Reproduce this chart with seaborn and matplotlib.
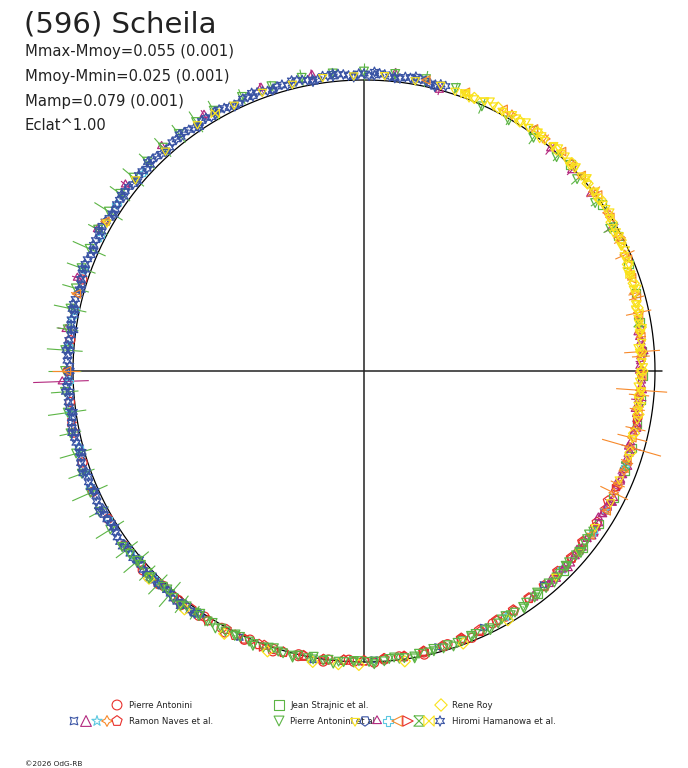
import numpy as np
import pandas as pd
import matplotlib
matplotlib.use("Agg")
import matplotlib.pyplot as plt
import seaborn as sns
from matplotlib.collections import LineCollection

sns.set_theme(style="white")
plt.rcParams['font.family'] = ['DejaVu Sans']

# ---------------- text ----------------
TITLE = "(596) Scheila"
STATS = ["Mmax-Mmoy=0.055 (0.001)", "Mmoy-Mmin=0.025 (0.001)",
         "Mamp=0.079 (0.001)", "Eclat^1.00"]
COPYRIGHT = "\u00a92026 OdG-RB"

# ---------------- data: phase (deg, clockwise from top) and delta-mag ----------------
hh_blue_phase = [214, 216, 218, 220, 222, 224, 226, 228, 230, 232, 234, 236, 238, 240, 242, 244, 246, 248,
                 250, 252, 254, 256, 258, 260, 262, 264, 266, 268, 270, 272, 274, 276, 278, 280, 282, 284,
                 286, 288, 290, 292, 294, 296, 298, 300, 302, 304, 306, 308, 310, 312, 314, 316, 318, 320,
                 322, 324, 326, 328, 330, 332, 334, 336, 338, 340, 342, 344, 346, 348, 350, 352, 354, 356,
                 358, 0, 2, 4, 6, 8, 10, 12, 14, 16]
hh_blue_dmag = [-0.011, -0.018, -0.015, -0.022, -0.014, -0.019, -0.013, -0.023, -0.016, -0.021, -0.018, -0.024,
                -0.017, -0.021, -0.015, -0.023, -0.019, -0.022, -0.016, -0.025, -0.018, -0.021, -0.014, -0.022,
                -0.017, -0.023, -0.015, -0.020, -0.016, -0.022, -0.014, -0.021, -0.017, -0.023, -0.018, -0.024,
                -0.019, -0.025, -0.020, -0.027, -0.021, -0.028, -0.022, -0.029, -0.023, -0.027, -0.021, -0.029,
                -0.024, -0.028, -0.022, -0.027, -0.021, -0.028, -0.023, -0.026, -0.020, -0.027, -0.021, -0.025,
                -0.019, -0.026, -0.020, -0.024, -0.018, -0.025, -0.019, -0.024, -0.018, -0.025, -0.019, -0.023,
                -0.017, -0.024, -0.018, -0.023, -0.016, -0.022, -0.017, -0.021, -0.015, -0.020]

hh_blue2_phase = [215, 217, 219, 221, 223, 225, 227, 229, 231, 233, 235, 237, 239, 241, 243, 245,
                  247, 249, 251, 253, 255, 257, 259, 261, 263, 265, 267, 269, 271, 273, 275, 277,
                  279, 281, 283, 285, 287, 289, 291, 293, 295, 297, 299, 301, 303, 305, 307, 309,
                  311, 313, 315, 317, 319, 321, 323, 325, 327, 329, 331, 333, 335, 337, 339, 341,
                  343, 345, 347, 349, 351, 353, 355, 357, 359, 1, 3, 5, 7, 9, 11, 13, 15]
hh_blue2_dmag = [-0.018, -0.012, -0.022, -0.015, -0.013, -0.020, -0.023, -0.016,
                 -0.023, -0.016, -0.026, -0.018, -0.015, -0.022, -0.025, -0.017,
                 -0.023, -0.016, -0.026, -0.018, -0.015, -0.022, -0.024, -0.016,
                 -0.022, -0.015, -0.025, -0.016, -0.013, -0.020, -0.023, -0.015,
                 -0.021, -0.015, -0.026, -0.018, -0.016, -0.024, -0.028, -0.020,
                 -0.027, -0.021, -0.031, -0.023, -0.020, -0.027, -0.030, -0.022,
                 -0.028, -0.021, -0.031, -0.022, -0.019, -0.026, -0.029, -0.020,
                 -0.026, -0.019, -0.029, -0.020, -0.017, -0.024, -0.027, -0.019,
                 -0.024, -0.017, -0.027, -0.019, -0.016, -0.023, -0.026, -0.018,
                 -0.024, -0.016, -0.026, -0.017, -0.014, -0.021, -0.023, -0.015, -0.021]

hh_blue3_phase = [214, 218, 222, 226, 230, 234, 238, 242, 246, 250, 254, 258, 262, 266, 270, 274, 278,
                  282, 286, 290, 294, 298, 302, 306, 310, 314, 318, 322, 326, 330, 334, 338, 342, 346,
                  350, 354, 358, 2, 6, 10, 14]
hh_blue3_dmag = [-0.006, -0.027, -0.011, -0.028, -0.008, -0.028, -0.011, -0.031, -0.013, -0.030, -0.009,
                 -0.028, -0.010, -0.030, -0.011, -0.028, -0.008, -0.027, -0.012, -0.033, -0.017, -0.035,
                 -0.014, -0.033, -0.016, -0.036, -0.017, -0.034, -0.012, -0.031, -0.013, -0.033, -0.015,
                 -0.031, -0.010, -0.029, -0.011, -0.031, -0.013, -0.029, -0.007]

hh_yellow_phase = [300, 310, 318, 326, 334, 340, 346, 352, 358, 4, 10, 15, 20, 24, 28, 31, 34, 37, 40, 43,
                   46, 49, 52, 55, 58, 61, 64, 67, 70, 73, 76, 79, 82, 85, 88, 91, 94, 97, 100, 104, 108,
                   113, 118, 124, 130, 137]
hh_yellow_dmag = [-0.022, -0.027, -0.021, -0.025, -0.020, -0.023, -0.019, -0.022, -0.018, -0.021, -0.016,
                  -0.020, -0.015, -0.019, -0.014, -0.018, -0.013, -0.016, -0.011, -0.014, -0.007, -0.009,
                  -0.002, -0.003, 0.006, 0.010, 0.015, 0.023, 0.027, 0.035, 0.037, 0.045, 0.044, 0.051,
                  0.050, 0.056, 0.052, 0.057, 0.051, 0.055, 0.048, 0.052, 0.044, 0.046, 0.038, 0.037]

hh_yellow_b_phase = [18, 20, 22, 24, 26, 28, 30, 32, 34, 36, 38, 40, 42, 44, 46, 48, 50, 52, 54, 56,
                     58, 60, 62, 64, 66, 68, 70, 72, 74, 76, 78, 80, 82, 84, 86, 88, 90, 92, 94, 96, 98]
hh_yellow_b_dmag = [-0.014, -0.021, -0.012, -0.019, -0.017, -0.013, -0.021, -0.014, -0.012, -0.019,
                    -0.009, -0.015, -0.011, -0.006, -0.014, -0.005, -0.002, -0.008, 0.002, -0.002,
                    0.004, 0.012, 0.007, 0.018, 0.023, 0.020, 0.033, 0.029, 0.034, 0.042,
                    0.036, 0.046, 0.049, 0.045, 0.056, 0.050, 0.053, 0.058, 0.049, 0.057, 0.057]

hh_yellow_c_phase = [21, 25, 29, 33, 37, 41, 45, 49, 53, 57, 61, 65, 69, 73, 77, 81, 85, 89, 93, 97]
hh_yellow_c_dmag = [-0.008, -0.028, -0.010, -0.025, -0.003, -0.020, 0.000, -0.017, 0.004, -0.008,
                    0.021, 0.010, 0.035, 0.021, 0.047, 0.035, 0.061, 0.044, 0.063, 0.044]

rr_phase = [22, 27, 32, 36, 41, 45, 50, 54, 59, 63, 68, 72, 77, 81, 86, 90, 95, 99, 103, 107,
            150, 160, 172, 181, 185, 190, 199, 208, 217, 226]
rr_dmag = [-0.013, -0.017, -0.012, -0.015, -0.009, -0.011, -0.003, -0.004, 0.008, 0.011, 0.024, 0.028,
           0.039, 0.041, 0.050, 0.048, 0.055, 0.050, 0.053, 0.047,
           0.012, 0.004, -0.008, -0.011, -0.012, -0.016, -0.020, -0.024, -0.027, -0.029]

hh_orange_phase = [12, 20, 28, 35, 42, 48, 53, 58, 63, 67, 71, 75, 79, 83, 87, 91, 95, 99, 104, 109,
                   114, 120, 126, 270, 285, 300]
hh_orange_dmag = [-0.024, -0.021, -0.020, -0.017, -0.016, -0.005, -0.006, 0.004, 0.014, 0.018, 0.030,
                  0.034, 0.043, 0.046, 0.053, 0.050, 0.058, 0.052, 0.057, 0.049, 0.051, 0.043, 0.045,
                  -0.024, -0.025, -0.030]
hh_orange_err = [0.008, 0.012, 0.006, 0.015, 0.009, 0.020, 0.007, 0.012, 0.025, 0.010, 0.018, 0.030,
                 0.012, 0.020, 0.035, 0.015, 0.040, 0.020, 0.060, 0.025, 0.030, 0.020, 0.015, 0.050,
                 0.020, 0.015]

hh_magenta_phase = [84, 88, 92, 96, 100, 103, 106, 109, 112, 115, 118, 121, 124, 127, 130, 134, 138,
                    40, 46, 52, 60, 350, 340, 328, 318, 308, 298, 288, 278, 268, 6, 15]
hh_magenta_dmag = [0.048, 0.054, 0.051, 0.057, 0.053, 0.056, 0.050, 0.054, 0.047, 0.051, 0.044, 0.048,
                   0.041, 0.045, 0.038, 0.040, 0.033, 0.002, 0.008, 0.012, 0.020, -0.035, -0.038, -0.040,
                   -0.042, -0.043, -0.040, -0.038, -0.036, -0.040, -0.030, 0.000]
hh_magenta_err = [0.010, 0.020, 0.008, 0.030, 0.012, 0.015, 0.040, 0.010, 0.020, 0.012, 0.025, 0.010,
                  0.015, 0.020, 0.010, 0.012, 0.010, 0.030, 0.025, 0.020, 0.030, 0.020, 0.018, 0.020,
                  0.015, 0.020, 0.018, 0.020, 0.030, 0.100, 0.020, 0.020]

hh_magenta_b_phase = [81, 83, 85, 87, 89, 91, 93, 95, 97, 99, 101, 103, 105, 107, 109, 111, 113, 115,
                      117, 119, 121, 123, 125, 127, 129, 131, 133, 135, 137, 139]
hh_magenta_b_dmag = [0.042, 0.051, 0.044, 0.053, 0.058, 0.052, 0.050, 0.058, 0.052, 0.058, 0.048, 0.055,
                     0.057, 0.049, 0.045, 0.053, 0.046, 0.052, 0.041, 0.048, 0.050, 0.042, 0.038, 0.045,
                     0.038, 0.043, 0.032, 0.038, 0.040, 0.032]
hh_magenta_c_phase = [82, 86, 90, 94, 98, 102, 106, 110, 114, 118, 122, 126, 130, 134, 138]
hh_magenta_c_dmag = [0.055, 0.039, 0.060, 0.045, 0.066, 0.046, 0.061, 0.039, 0.056, 0.037, 0.056, 0.035,
                     0.049, 0.026, 0.042]

hh_cyan_phase = [225, 232, 240, 247, 255, 262, 268, 275, 282, 290, 297, 304, 312, 110, 125]
hh_cyan_dmag = [-0.016, -0.022, -0.017, -0.024, -0.016, -0.023, -0.015, -0.022, -0.017, -0.026, -0.020,
                -0.028, -0.022, 0.050, 0.043]

hh_red_phase = [100, 115, 200, 260]
hh_red_dmag = [0.050, 0.047, -0.010, -0.020]
hh_green_phase = [60, 80, 110]
hh_green_dmag = [0.012, 0.048, 0.049]
hh_bowtie_phase = [330, 20, 70]
hh_bowtie_dmag = [-0.024, -0.016, 0.030]
hh_hex_phase = [240, 300]
hh_hex_dmag = [-0.020, -0.025]

rn_pent_phase = [118, 123, 128, 132, 136, 140, 144, 148, 152, 156, 160, 164, 168, 172, 176, 180, 184,
                 188, 192, 196, 201, 206, 212, 218, 224]
rn_pent_dmag = [0.055, 0.050, 0.052, 0.046, 0.047, 0.041, 0.040, 0.035, 0.033, 0.028, 0.025, 0.019, 0.017,
                0.011, 0.010, 0.005, 0.004, -0.001, -0.002, -0.006, -0.007, -0.011, -0.012, -0.016, -0.015]
rn_pent_b_phase = [120, 124, 128, 132, 136, 140, 144, 148, 152, 156, 160, 164, 168, 172, 176, 180, 184,
                   188, 192, 196, 200, 204, 208, 212, 216, 220]
rn_pent_b_dmag = [0.049, 0.046, 0.048, 0.042, 0.043, 0.036, 0.037, 0.030, 0.030, 0.022, 0.023, 0.016,
                  0.016, 0.009, 0.010, 0.004, 0.005, -0.001, 0.001, -0.005, -0.003, -0.009, -0.006,
                  -0.012, -0.010, -0.015]

rn_orange_phase = [30, 38, 45, 52, 57, 62, 66, 70, 74, 78, 82, 86, 90, 94, 98, 102, 106, 111, 116]
rn_orange_dmag = [-0.018, -0.013, -0.010, -0.001, 0.002, 0.012, 0.021, 0.026, 0.036, 0.040, 0.047, 0.049,
                  0.055, 0.053, 0.058, 0.052, 0.055, 0.048, 0.050]
rn_orange_err = [0.012, 0.020, 0.010, 0.030, 0.015, 0.020, 0.040, 0.012, 0.025, 0.050, 0.015, 0.070,
                 0.020, 0.100, 0.030, 0.040, 0.120, 0.020, 0.060]

rn_tri_phase = [95, 101, 107, 113, 119, 125, 131, 137, 143]
rn_tri_dmag = [0.058, 0.051, 0.055, 0.049, 0.050, 0.042, 0.044, 0.036, 0.037]
rn_cstar_phase = [120, 135, 150, 250, 280]
rn_cstar_dmag = [0.047, 0.040, 0.028, -0.022, -0.020]
rn_bstar_phase = [140, 155, 165, 178, 190, 205, 215]
rn_bstar_dmag = [0.045, 0.030, 0.020, 0.007, -0.008, -0.010, -0.018]

pa_phase = [176, 182, 187, 193, 198, 204, 209, 214, 219, 224, 229, 234, 240, 246, 252, 258, 264, 270,
            276, 282, 288, 150, 160, 168]
pa_dmag = [0.006, 0.000, 0.001, -0.006, -0.005, -0.012, -0.010, -0.016, -0.014, -0.019, -0.016, -0.021,
           -0.017, -0.022, -0.018, -0.021, -0.017, -0.020, -0.016, -0.021, -0.019, 0.028, 0.018, 0.012]
pa_b_phase = [153, 158, 163, 168, 173, 178, 183, 188, 193, 198, 203, 208, 213, 218, 223, 228]
pa_b_dmag = [0.029, 0.012, 0.020, 0.004, 0.013, -0.003, 0.007, -0.009, 0.001, -0.014, -0.003, -0.019,
             -0.007, -0.022, -0.011, -0.025]

js_phase = [35, 45, 55, 62, 68, 74, 80, 86, 91, 96, 101, 106, 111, 117, 123, 129, 135, 142]
js_dmag = [-0.012, -0.004, 0.003, 0.013, 0.022, 0.031, 0.040, 0.046, 0.048, 0.050, 0.049, 0.047, 0.046,
           0.042, 0.040, 0.037, 0.033, 0.030]

pae_phase = [125, 128, 131, 134, 137, 140, 143, 146, 149, 152, 155, 158, 161, 164, 167, 170, 173, 176,
             179, 182, 185, 188, 191, 194, 197, 200, 203, 206, 209, 212, 215, 218, 221, 224, 227, 230, 233,
             238, 242, 246, 250, 254, 258, 262, 266, 270, 274, 278, 282, 286, 290, 294, 298, 302, 306,
             310, 314, 318, 322, 326, 330,
             336, 342, 348, 354, 0, 6, 12, 18, 24, 30, 36, 42, 48, 54, 60]
pae_dmag = [0.042, 0.039, 0.038, 0.034, 0.033, 0.029, 0.028, 0.024, 0.023, 0.019, 0.018, 0.014, 0.013,
            0.009, 0.008, 0.004, 0.004, 0.000, 0.000, -0.003, -0.003, -0.006, -0.006, -0.009, -0.009,
            -0.012, -0.011, -0.014, -0.013, -0.016, -0.015, -0.018, -0.017, -0.020, -0.019, -0.022, -0.021,
            -0.030, -0.033, -0.031, -0.034, -0.031, -0.033, -0.030, -0.032, -0.029, -0.031, -0.030, -0.033,
            -0.032, -0.035, -0.034, -0.037, -0.036, -0.038, -0.036, -0.038, -0.035, -0.036, -0.034, -0.035,
            -0.033, -0.031, -0.032, -0.030, -0.031, -0.028, -0.027, -0.024, 0.005, 0.006, 0.010, 0.012,
            0.016, 0.020, 0.025]
pae_err = [0.004, 0.003, 0.004, 0.003, 0.004, 0.003, 0.004, 0.003, 0.004, 0.003, 0.004, 0.003, 0.004,
           0.003, 0.004, 0.003, 0.004, 0.003, 0.004, 0.003, 0.004, 0.003, 0.004, 0.003, 0.004, 0.003,
           0.004, 0.003, 0.004, 0.020, 0.030, 0.040, 0.060, 0.050, 0.040, 0.060, 0.050,
           0.060, 0.040, 0.070, 0.050, 0.060, 0.040, 0.070, 0.050, 0.060, 0.065, 0.040, 0.060, 0.050,
           0.055, 0.065, 0.040, 0.060, 0.045, 0.050, 0.040, 0.045, 0.040, 0.045, 0.040,
           0.030, 0.020, 0.030, 0.020, 0.030, 0.020, 0.030, 0.020, 0.030, 0.020, 0.030, 0.020, 0.030,
           0.020, 0.030]
pae_b_phase = [127, 130, 133, 136, 139, 142, 145, 148, 151, 154, 157, 160, 163, 166, 169, 172, 175, 178,
               181, 184, 187, 190, 193, 196, 199, 202, 205, 208, 211, 214, 217, 220, 223, 226, 229, 232]
pae_b_dmag = [0.044, 0.037, 0.040, 0.033, 0.036, 0.029, 0.031, 0.023, 0.026, 0.018, 0.020, 0.013, 0.016,
              0.008, 0.011, 0.004, 0.007, 0.001, 0.003, -0.003, 0.000, -0.007, -0.004, -0.010, -0.006,
              -0.013, -0.009, -0.015, -0.011, -0.017, -0.014, -0.020, -0.015, -0.021, -0.017, -0.023]
pae_c_phase = [126, 130, 134, 138, 142, 146, 150, 154, 158, 162, 166, 170, 174, 178, 182, 186, 190, 194,
               198, 202, 206, 210, 214, 218, 222, 226, 230, 234]
pae_c_dmag = [0.049, 0.030, 0.040, 0.024, 0.037, 0.017, 0.030, 0.010, 0.020, 0.005, 0.017, -0.003, 0.011,
              -0.009, 0.003, -0.012, 0.003, -0.016, -0.002, -0.020, -0.008, -0.023, -0.007, -0.025,
              -0.011, -0.029, -0.016, -0.030]

# legend entries
LEG_PA = "Pierre Antonini"
LEG_RN = "Ramon Naves et al."
LEG_JS = "Jean Strajnic et al."
LEG_PAE = "Pierre Antonini et al."
LEG_RR = "Rene Roy"
LEG_HH = "Hiromi Hamanowa et al."

# ---------------- styles ----------------
RED = '#e8302c'
GREEN = '#5cb545'
YELLOW = '#fae21c'
BLUE = '#3953a4'
MAGENTA = '#b3287e'
CYAN = '#5cc8e0'
ORANGE = '#f7892a'
HOURGLASS = [(-1, 1), (1, 1), (-1, -1), (1, -1), (-1, 1)]
BOWTIE = [(-1, 1), (1, -1), (1, 1), (-1, -1), (-1, 1)]

CX, CY, R = 364.0, 371.0, 291.0
LW = 0.9

fig = plt.figure(figsize=(6.88, 7.68), dpi=100)
ax = fig.add_axes([0, 0, 1, 1])
ax.set_xlim(0, 688)
ax.set_ylim(768, 0)
ax.axis('off')


def to_xy(phase, dmag):
    th = np.deg2rad(np.asarray(phase, float))
    r = R * 10 ** (-0.4 * np.asarray(dmag, float))
    return CX + r * np.sin(th), CY - r * np.cos(th)


def errbars(phase, dmag, err, color, z):
    th = np.deg2rad(np.asarray(phase, float))
    d = np.asarray(dmag, float)
    e = np.asarray(err, float)
    r1 = R * 10 ** (-0.4 * (d - e))
    r2 = R * 10 ** (-0.4 * (d + e))
    segs = [[(CX + a * np.sin(t), CY - a * np.cos(t)), (CX + b * np.sin(t), CY - b * np.cos(t))]
            for t, a, b in zip(th, r1, r2)]
    ax.add_collection(LineCollection(segs, colors=color, linewidths=0.8, zorder=z))


# guide circle and crosshair
tt = np.linspace(0, 2 * np.pi, 721)
ax.plot(CX + R * np.cos(tt), CY + R * np.sin(tt), color='black', lw=0.9, zorder=1)
ax.plot([CX - R, CX + R + 7], [CY, CY], color='#222222', lw=1.1, zorder=1)
ax.plot([CX, CX], [CY - R, CY + R], color='#222222', lw=1.1, zorder=1)

series = [
    (rn_pent_phase, rn_pent_dmag, None, RED, 'p', 55, 3),
    (rn_pent_b_phase, rn_pent_b_dmag, None, RED, 'p', 50, 3),
    (pa_phase, pa_dmag, None, RED, 'o', 42, 3),
    (pa_b_phase, pa_b_dmag, None, RED, 'o', 42, 3),
    (rn_bstar_phase, rn_bstar_dmag, None, BLUE, (4, 1, 45), 42, 3),
    (rn_tri_phase, rn_tri_dmag, None, MAGENTA, '^', 40, 3),
    (rn_cstar_phase, rn_cstar_dmag, None, CYAN, '*', 50, 3),
    (js_phase, js_dmag, None, GREEN, 's', 36, 4),
    (hh_magenta_phase, hh_magenta_dmag, hh_magenta_err, MAGENTA, (3, 1, 0), 45, 4),
    (hh_magenta_b_phase, hh_magenta_b_dmag, None, MAGENTA, (3, 1, 0), 42, 4),
    (hh_magenta_c_phase, hh_magenta_c_dmag, None, MAGENTA, (3, 1, 0), 42, 4),
    (hh_cyan_phase, hh_cyan_dmag, None, CYAN, 'P', 36, 4),
    (hh_red_phase, hh_red_dmag, None, RED, '>', 36, 4),
    (hh_green_phase, hh_green_dmag, None, GREEN, HOURGLASS, 36, 4),
    (hh_hex_phase, hh_hex_dmag, None, BLUE, (5, 0, 180), 36, 4),
    (pae_phase, pae_dmag, pae_err, GREEN, 'v', 40, 4.5),
    (hh_blue3_phase, hh_blue3_dmag, None, BLUE, (6, 1, 0), 46, 5),
    (hh_blue_phase, hh_blue_dmag, None, BLUE, (6, 1, 0), 48, 5),
    (hh_blue2_phase, hh_blue2_dmag, None, BLUE, (6, 1, 0), 48, 5),
    (rn_orange_phase, rn_orange_dmag, rn_orange_err, ORANGE, (4, 1, 0), 48, 5),
    (hh_orange_phase, hh_orange_dmag, hh_orange_err, ORANGE, '<', 36, 5),
    (rr_phase, rr_dmag, None, YELLOW, 'D', 32, 6),
    (hh_yellow_c_phase, hh_yellow_c_dmag, None, YELLOW, (3, 1, 180), 46, 6),
    (hh_yellow_phase, hh_yellow_dmag, None, YELLOW, (3, 1, 180), 48, 6),
    (hh_yellow_b_phase, hh_yellow_b_dmag, None, YELLOW, (3, 1, 180), 48, 6),
    (hh_bowtie_phase, hh_bowtie_dmag, None, YELLOW, BOWTIE, 36, 6),
    (pae_c_phase, pae_c_dmag, None, GREEN, 'v', 40, 7),
    (pae_b_phase, pae_b_dmag, None, GREEN, 'v', 40, 7),
]

for ph, dm, er, col, mk, sz, z in series:
    x, y = to_xy(ph, dm)
    if er is not None:
        errbars(ph, dm, er, col, z)
    sns.scatterplot(x=x, y=y, ax=ax, marker=mk, s=sz, color=col, facecolor='none',
                    edgecolor=col, linewidth=LW, legend=False, zorder=z)

# ---------------- texts ----------------
ax.text(24, 32, TITLE, fontsize=21, color='#222222', ha='left', va='baseline')
for i, s in enumerate(STATS):
    ax.text(25, 56 + 24.8 * i, s, fontsize=10.6, color='#222222', ha='left', va='baseline')
ax.text(25, 766, COPYRIGHT, fontsize=5.3, color='#222222', ha='left', va='baseline')

# ---------------- legend ----------------
def lm(x, y, mk, col, s=50):
    ax.scatter([x], [y], marker=mk, s=s, facecolor='none', edgecolor=col, linewidth=0.8, zorder=10)

r1, r2 = 705, 721
lm(117, r1, 'o', RED)
ax.text(129, r1 + 3.5, LEG_PA, fontsize=6.2, ha='left', va='baseline', color='#222222')
lm(279, r1, 's', GREEN, 45)
ax.text(290, r1 + 3.5, LEG_JS, fontsize=6.2, ha='left', va='baseline', color='#222222')
lm(441, r1, 'D', YELLOW, 40)
ax.text(452, r1 + 3.5, LEG_RR, fontsize=6.2, ha='left', va='baseline', color='#222222')

for xx, mk, col in [(74, (4, 1, 45), BLUE), (86, '^', MAGENTA), (97, '*', CYAN),
                    (107, (4, 1, 0), ORANGE), (117, 'p', RED)]:
    lm(xx, r2, mk, col, 60)
ax.text(129, r2 + 3.5, LEG_RN, fontsize=6.2, ha='left', va='baseline', color='#222222')
lm(279, r2, 'v', GREEN, 50)
ax.text(290, r2 + 3.5, LEG_PAE, fontsize=6.2, ha='left', va='baseline', color='#222222')
for xx, mk, col in [(355, (3, 1, 180), YELLOW), (365, (5, 0, 180), BLUE), (377, (3, 1, 0), MAGENTA),
                    (388, 'P', CYAN), (397, '<', ORANGE), (408, '>', RED), (419, HOURGLASS, GREEN),
                    (429, BOWTIE, YELLOW), (440, (6, 1, 0), BLUE)]:
    lm(xx, r2, mk, col, 55)
ax.text(452, r2 + 3.5, LEG_HH, fontsize=6.2, ha='left', va='baseline', color='#222222')

fig.savefig("out.png", dpi=100)
